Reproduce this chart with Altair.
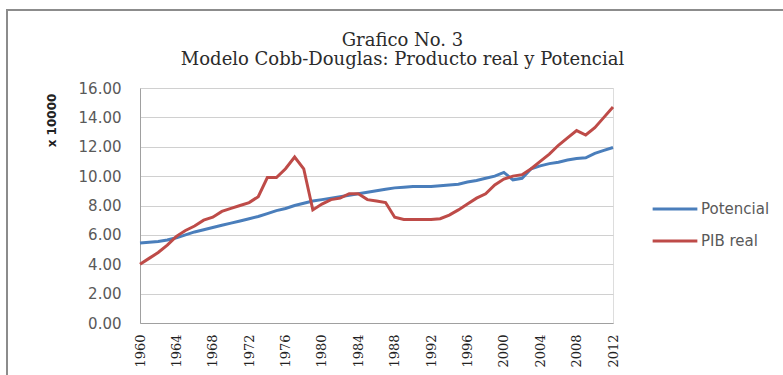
import altair as alt
import pandas as pd

years = list(range(1960, 2013))
potencial = [5.45, 5.5, 5.55, 5.65, 5.8, 6.0, 6.2, 6.35, 6.5, 6.65,
             6.8, 6.95, 7.1, 7.25, 7.45, 7.65, 7.8, 8.0, 8.15, 8.3,
             8.4, 8.5, 8.6, 8.7, 8.8, 8.9, 9.0, 9.1, 9.2, 9.25,
             9.3, 9.3, 9.3, 9.35, 9.4, 9.45, 9.6, 9.7, 9.85, 10.0,
             10.25, 9.75, 9.85, 10.5, 10.7, 10.85, 10.95, 11.1, 11.2, 11.25,
             11.55, 11.75, 11.95]
pib_real = [4.0, 4.4, 4.8, 5.3, 5.9, 6.3, 6.6, 7.0, 7.2, 7.6,
            7.8, 8.0, 8.2, 8.6, 9.9, 9.9, 10.5, 11.3, 10.5, 7.7,
            8.1, 8.4, 8.5, 8.8, 8.8, 8.4, 8.3, 8.2, 7.2, 7.05,
            7.05, 7.05, 7.05, 7.1, 7.35, 7.7, 8.1, 8.5, 8.8, 9.4,
            9.8, 10.0, 10.1, 10.5, 11.0, 11.5, 12.1, 12.6, 13.1, 12.8,
            13.3, 14.0, 14.7]
series_names = ["Potencial", "PIB real"]
series_colors = ["#4a7ebb", "#be4b48"]
x_ticks = list(range(1960, 2013, 4))
y_ticks = list(range(0, 17, 2))

df = pd.DataFrame({
    "year": years * 2,
    "value": potencial + pib_real,
    "serie": ["Potencial"] * len(years) + ["PIB real"] * len(years),
    "order": [0] * len(years) + [1] * len(years),
})

lines = alt.Chart(df).mark_line(strokeWidth=3).encode(
    x=alt.X("year:Q",
            scale=alt.Scale(domain=[1960, 2012], nice=False, zero=False),
            axis=alt.Axis(values=x_ticks, format="d", labelAngle=-90,
                          labelFont="DejaVu Serif", labelFontSize=13,
                          labelColor="#222", labelPadding=11, ticks=False,
                          grid=False, domainColor="#a0a0a0", title=None)),
    y=alt.Y("value:Q",
            scale=alt.Scale(domain=[0, 16], nice=False),
            axis=alt.Axis(values=y_ticks, format=".2f", labelFont="DejaVu Sans",
                          labelFontSize=15, labelColor="#595959", labelPadding=19,
                          ticks=False, gridColor="#d0d0d0", domainColor="#a0a0a0",
                          title="x 10000", titleFont="DejaVu Sans",
                          titleFontSize=12, titleFontWeight="bold",
                          titleColor="#222", titleAngle=-90, titleX=-89,
                          titleY=32, titleAlign="center",
                          titleBaseline="middle")),
    color=alt.Color("serie:N",
                    scale=alt.Scale(domain=series_names, range=series_colors),
                    legend=alt.Legend(title=None, orient="none", legendX=511,
                                      legendY=97, symbolType="stroke",
                                      symbolSize=2000, symbolStrokeWidth=3,
                                      labelFont="DejaVu Sans", labelFontSize=15,
                                      labelColor="#595959", labelOffset=2,
                                      rowPadding=-14)),
    order="order:Q",
)

frame = alt.Chart(alt.Data(values=[{}])).mark_rect(
    fill="transparent", stroke="#8c8c8c", strokeWidth=2
).encode(
    x=alt.value(-133), x2=alt.value(700),
    y=alt.value(-78), y2=alt.value(400),
)

chart = alt.layer(frame, lines).properties(
    width=473, height=235,
    title=alt.TitleParams(
        text=["Grafico No. 3", "Modelo Cobb-Douglas: Producto real y Potencial"],
        font="DejaVu Serif", fontSize=18, fontWeight="normal", color="#2b2b2b",
        anchor="middle", dx=26, dy=74, offset=14, lineHeight=19),
    autosize=alt.AutoSizeParams(type="none"),
    padding={"left": 140, "top": 88, "right": 170, "bottom": 52},
).configure_view(stroke=None).configure(background="white")

chart.save("out.html", embed_options={"renderer": "svg", "actions": False})
